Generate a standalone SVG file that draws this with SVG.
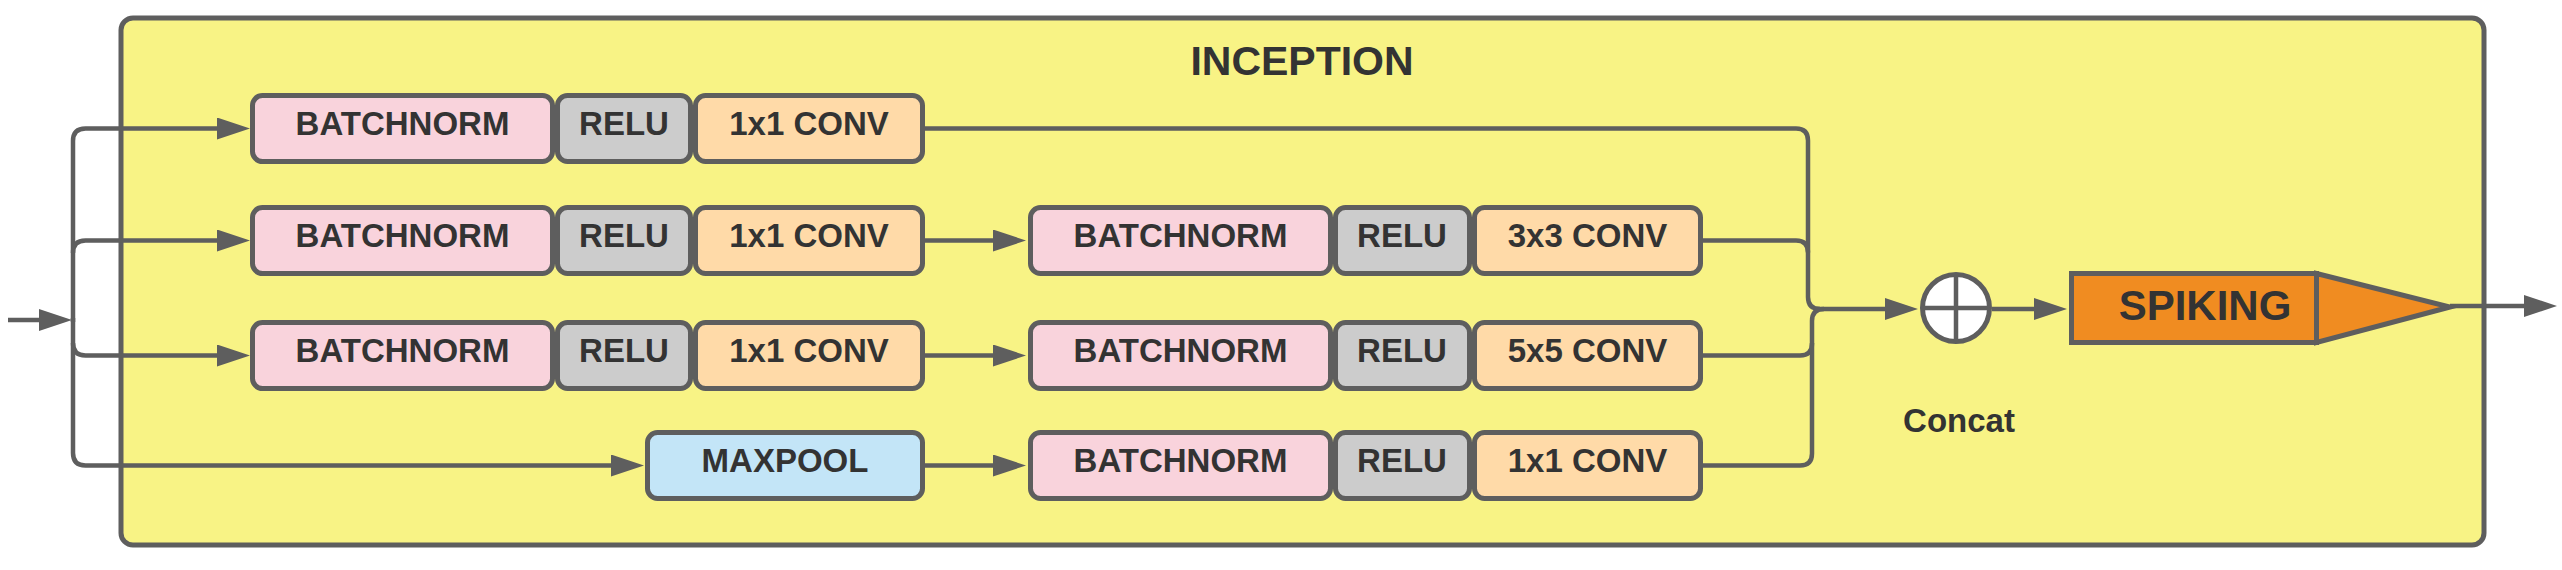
<svg xmlns="http://www.w3.org/2000/svg" width="2562" height="570" viewBox="0 0 2562 570">
<style>
.box{stroke:#5e5e5e;stroke-width:5}
.bn{fill:#f9d3dc}
.relu{fill:#cccccc}
.conv{fill:#ffdaa8}
.pool{fill:#c3e5f7}
.lbl{font-family:"Liberation Sans",Arial,sans-serif;font-weight:bold;font-size:33px;fill:#333333;text-anchor:middle}
.ln{fill:none;stroke:#5e5e5e;stroke-width:4.5}
.arr{marker-end:url(#ah)}
</style>
<defs>
<marker id="ah" markerUnits="userSpaceOnUse" markerWidth="33" markerHeight="22" refX="23" refY="11" orient="auto" viewBox="0 0 33 22">
<path d="M0,0 L33,11 L0,22 z" fill="#5e5e5e"/>
</marker>
</defs>
<rect width="2562" height="570" fill="#ffffff"/>
<g id="inception">
<rect x="121" y="18" width="2363" height="527" rx="12" fill="#f8f385" stroke="#5e5e5e" stroke-width="5"/>
<text class="lbl" x="1302" y="75" style="font-size:41px">INCEPTION</text>
</g>
<g id="connectors">
<path class="ln arr" d="M8 320 H62"/>
<path class="ln arr" d="M73 322 V141 Q73 128.5 85.5 128.5 H240"/>
<path class="ln arr" d="M73 253 Q73 240.5 85.5 240.5 H240"/>
<path class="ln arr" d="M73 343 Q73 355.5 85.5 355.5 H240"/>
<path class="ln arr" d="M73 318 V453 Q73 465.5 85.5 465.5 H634"/>
<path class="ln arr" d="M925 240.5 H1016"/>
<path class="ln arr" d="M925 355.5 H1016"/>
<path class="ln arr" d="M925 465.5 H1016"/>
<path class="ln" d="M923 128.5 H1796 Q1808 128.5 1808 140.5 V297 Q1808 309 1820 309"/>
<path class="ln" d="M1702 240.5 H1796 Q1808 240.5 1808 252.5"/>
<path class="ln" d="M1702 355.5 H1800 Q1812 355.5 1812 343.5 V321 Q1812 309 1824 309"/>
<path class="ln" d="M1702 465.5 H1800 Q1812 465.5 1812 453.5 V343"/>
<path class="ln arr" d="M1815 309 H1908"/>
<path class="ln arr" d="M1992 309 H2057"/>
<path class="ln arr" d="M2450 306 H2547"/>
</g>
<g id="r1-bn"><rect class="box bn" x="252.5" y="95.5" width="300" height="66" rx="10"/><text class="lbl" x="402.5" y="135">BATCHNORM</text></g>
<g id="r1-relu"><rect class="box relu" x="557.5" y="95.5" width="133" height="66" rx="10"/><text class="lbl" x="624" y="135">RELU</text></g>
<g id="r1-conv"><rect class="box conv" x="695.5" y="95.5" width="227" height="66" rx="10"/><text class="lbl" x="809" y="135">1x1 CONV</text></g>
<g id="r2-bn"><rect class="box bn" x="252.5" y="207.5" width="300" height="66" rx="10"/><text class="lbl" x="402.5" y="247">BATCHNORM</text></g>
<g id="r2-relu"><rect class="box relu" x="557.5" y="207.5" width="133" height="66" rx="10"/><text class="lbl" x="624" y="247">RELU</text></g>
<g id="r2-conv"><rect class="box conv" x="695.5" y="207.5" width="227" height="66" rx="10"/><text class="lbl" x="809" y="247">1x1 CONV</text></g>
<g id="r3-bn"><rect class="box bn" x="252.5" y="322.5" width="300" height="66" rx="10"/><text class="lbl" x="402.5" y="362">BATCHNORM</text></g>
<g id="r3-relu"><rect class="box relu" x="557.5" y="322.5" width="133" height="66" rx="10"/><text class="lbl" x="624" y="362">RELU</text></g>
<g id="r3-conv"><rect class="box conv" x="695.5" y="322.5" width="227" height="66" rx="10"/><text class="lbl" x="809" y="362">1x1 CONV</text></g>
<g id="r4-pool"><rect class="box pool" x="647.5" y="432.5" width="275" height="66" rx="10"/><text class="lbl" x="785" y="472">MAXPOOL</text></g>
<g id="r2-bn2"><rect class="box bn" x="1030.5" y="207.5" width="300" height="66" rx="10"/><text class="lbl" x="1180.5" y="247">BATCHNORM</text></g>
<g id="r2-relu2"><rect class="box relu" x="1335.5" y="207.5" width="134" height="66" rx="10"/><text class="lbl" x="1402" y="247">RELU</text></g>
<g id="r2-conv2"><rect class="box conv" x="1474.5" y="207.5" width="226" height="66" rx="10"/><text class="lbl" x="1587.5" y="247">3x3 CONV</text></g>
<g id="r3-bn2"><rect class="box bn" x="1030.5" y="322.5" width="300" height="66" rx="10"/><text class="lbl" x="1180.5" y="362">BATCHNORM</text></g>
<g id="r3-relu2"><rect class="box relu" x="1335.5" y="322.5" width="134" height="66" rx="10"/><text class="lbl" x="1402" y="362">RELU</text></g>
<g id="r3-conv2"><rect class="box conv" x="1474.5" y="322.5" width="226" height="66" rx="10"/><text class="lbl" x="1587.5" y="362">5x5 CONV</text></g>
<g id="r4-bn2"><rect class="box bn" x="1030.5" y="432.5" width="300" height="66" rx="10"/><text class="lbl" x="1180.5" y="472">BATCHNORM</text></g>
<g id="r4-relu2"><rect class="box relu" x="1335.5" y="432.5" width="134" height="66" rx="10"/><text class="lbl" x="1402" y="472">RELU</text></g>
<g id="r4-conv2"><rect class="box conv" x="1474.5" y="432.5" width="226" height="66" rx="10"/><text class="lbl" x="1587.5" y="472">1x1 CONV</text></g>
<g id="concat">
<circle cx="1956" cy="308" r="33.5" fill="#ffffff" stroke="#5e5e5e" stroke-width="5"/>
<path d="M1922.5 308 H1989.5 M1956 274.5 V341.5" stroke="#5e5e5e" stroke-width="4.5" fill="none"/>
<text class="lbl" x="1959" y="432" style="font-size:33px">Concat</text>
</g>
<g id="spiking">
<rect x="2071.5" y="273.5" width="245" height="69" fill="#f08c21" stroke="#5e5e5e" stroke-width="5"/>
<path d="M2316.5 273.5 L2450 307 L2316.5 342.5 Z" fill="#f08c21" stroke="#5e5e5e" stroke-width="5" stroke-linejoin="miter"/>
<text class="lbl" x="2205" y="320" style="font-size:42px">SPIKING</text>
</g>
</svg>
